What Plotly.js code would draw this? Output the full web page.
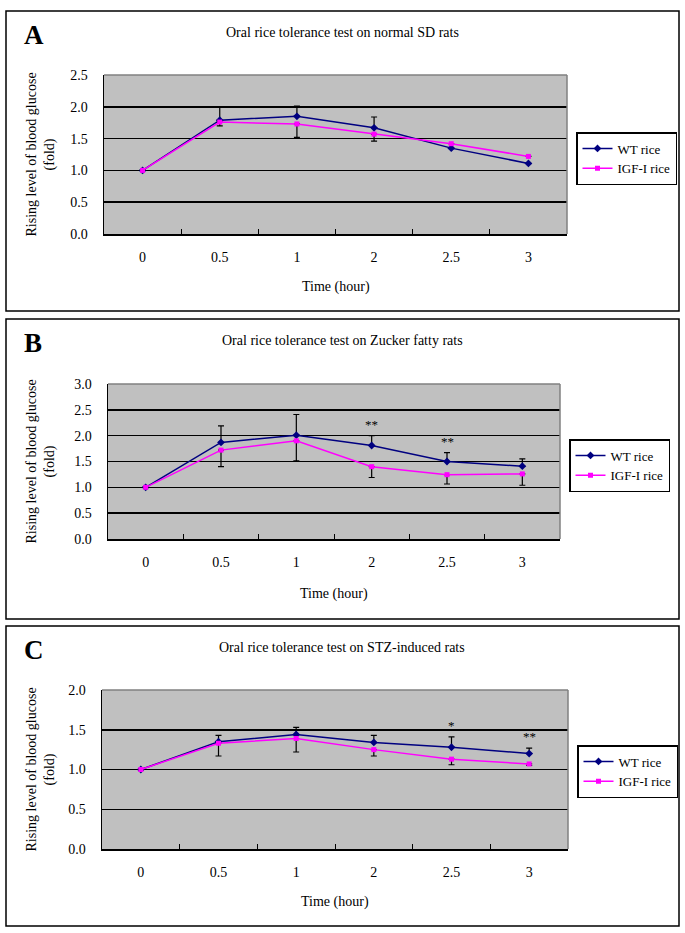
<!DOCTYPE html>
<html>
<head>
<meta charset="utf-8">
<script src="https://cdn.plot.ly/plotly-3.0.1.min.js"></script>
<style>
  body { margin: 0; background: #fff; }
  #chart { width: 685px; height: 933px; }
</style>
</head>
<body>
<div id="chart"></div>
<script>
// time points (category axis)
const timeLabels = ["0", "0.5", "1", "2", "2.5", "3"];

// A: normal SD rats
const wtA = [1.0, 1.79, 1.85, 1.67, 1.35, 1.11];
const igfA = [1.0, 1.76, 1.73, 1.57, 1.42, 1.22];
const wtErrA = [0, 0.21, 0.16, 0.17, 0, 0];
const igfErrA = [0, 0.06, 0.21, 0.11, 0, 0];
const starsA = ["", "", "", "", "", ""];

// B: Zucker fatty rats
const wtB = [1.0, 1.87, 2.01, 1.81, 1.50, 1.41];
const igfB = [1.0, 1.72, 1.90, 1.40, 1.245, 1.26];
const wtErrB = [0, 0.32, 0.40, 0.19, 0.17, 0.14];
const igfErrB = [0, 0.32, 0.385, 0.21, 0.18, 0.22];
const starsB = ["", "", "", "**", "**", ""];

// C: STZ-induced rats
const wtC = [1.0, 1.35, 1.44, 1.34, 1.28, 1.20];
const igfC = [1.0, 1.33, 1.39, 1.25, 1.13, 1.07];
const wtErrC = [0, 0.08, 0.09, 0.09, 0.13, 0.07];
const igfErrC = [0, 0.16, 0.17, 0.08, 0.07, 0.02];
const starsC = ["", "", "", "", "*", "**"];

const W = 685, H = 933;
const FONT = '"Liberation Serif", "Times New Roman", serif';
const px = v => v / W;
const py = v => 1 - v / H;

// panel boxes and plot areas in pixels
const panels = [
  { letter: "A", title: "Oral rice tolerance test on normal SD rats", ymax: 2.5,
    wt: wtA, igf: igfA, wtErr: wtErrA, igfErr: igfErrA, stars: starsA,
    box: [6, 11, 679, 311], plot: [104, 75, 567, 234], legendTop: 132, xTitleY: 287 },
  { letter: "B", title: "Oral rice tolerance test on Zucker fatty rats", ymax: 3.0,
    wt: wtB, igf: igfB, wtErr: wtErrB, igfErr: igfErrB, stars: starsB,
    box: [6, 319, 679, 619], plot: [108, 384, 560, 539], legendTop: 439, xTitleY: 594 },
  { letter: "C", title: "Oral rice tolerance test on STZ-induced rats", ymax: 2.0,
    wt: wtC, igf: igfC, wtErr: wtErrC, igfErr: igfErrC, stars: starsC,
    box: [6, 626, 679, 926], plot: [102, 690, 568, 849], legendTop: 745, xTitleY: 902 }
];

const data = [];
const layout = {
  width: W, height: H,
  margin: { l: 0, r: 0, t: 0, b: 0 },
  paper_bgcolor: "#fff",
  plot_bgcolor: "#c0c0c0",
  font: { family: FONT, color: "#000" },
  showlegend: true,
  shapes: [],
  annotations: []
};

panels.forEach((p, i) => {
  const n = i === 0 ? "" : String(i + 1);
  const xa = "x" + n, ya = "y" + n, lg = "legend" + n;
  const zeros = p.wt.map(() => 0);

  data.push({
    x: timeLabels, y: p.wt, xaxis: xa, yaxis: ya, legend: lg,
    name: "WT rice", mode: "lines+markers",
    line: { color: "#000080", width: 1.5 },
    marker: { symbol: "diamond", size: 6, color: "#000080" },
    error_y: { type: "data", symmetric: false, array: p.wtErr, arrayminus: zeros,
               color: "#000", thickness: 1.2, width: 3 }
  });
  data.push({
    x: timeLabels, y: p.igf, xaxis: xa, yaxis: ya, legend: lg,
    name: "IGF-I rice", mode: "lines+markers",
    line: { color: "#ff00ff", width: 1.5 },
    marker: { symbol: "square", size: 5, color: "#ff00ff" },
    error_y: { type: "data", symmetric: false, array: zeros, arrayminus: p.igfErr,
               color: "#000", thickness: 1.2, width: 3 }
  });

  const [l, t, r, b] = p.plot;
  layout["xaxis" + n] = {
    domain: [px(l), px(r)], anchor: ya, type: "category", range: [-0.5, 5.5],
    tickson: "boundaries", ticks: "inside", ticklen: 5, tickcolor: "#000",
    showline: true, linecolor: "#000", linewidth: 1.5, showgrid: false,
    tickfont: { size: 14 }, ticklabelstandoff: 10, fixedrange: true
  };
  layout["yaxis" + n] = {
    domain: [py(b), py(t)], anchor: xa, range: [0, p.ymax], tick0: 0, dtick: 0.5,
    tickformat: ".1f", showline: true, linecolor: "#000", linewidth: 1.5,
    showgrid: true, gridcolor: "#000", gridwidth: 1.5, zeroline: false,
    tickfont: { size: 14 }, ticklabelstandoff: 12, fixedrange: true
  };

  layout[lg] = {
    x: px(p.plot[2] + 9), y: py(p.legendTop), xanchor: "left", yanchor: "top",
    bordercolor: "#000", borderwidth: 1.5, bgcolor: "#fff",
    font: { size: 13 }, itemwidth: 30, tracegroupgap: 2
  };

  // panel frame
  const [bx0, by0, bx1, by1] = p.box;
  layout.shapes.push({ type: "rect", xref: "paper", yref: "paper",
    x0: px(bx0), x1: px(bx1), y0: py(by1), y1: py(by0),
    line: { color: "#000", width: 1.5 }, layer: "below" });
  // grey plot-area border on top and right
  layout.shapes.push({ type: "line", xref: xa + " domain", yref: ya + " domain",
    x0: 0, x1: 1, y0: 1, y1: 1, line: { color: "#808080", width: 1.5 }, layer: "above" });
  layout.shapes.push({ type: "line", xref: xa + " domain", yref: ya + " domain",
    x0: 1, x1: 1, y0: 0, y1: 1, line: { color: "#808080", width: 1.5 }, layer: "above" });

  // letter, title, axis titles
  layout.annotations.push({ xref: "paper", yref: "paper", x: px(22), y: py(p.box[1] + 24),
    xanchor: "left", yanchor: "middle", showarrow: false,
    text: "<b>" + p.letter + "</b>", font: { size: 27 } });
  layout.annotations.push({ xref: "paper", yref: "paper", x: px(342), y: py(p.box[1] + 21),
    xanchor: "center", yanchor: "middle", showarrow: false,
    text: p.title, font: { size: 14 } });
  layout.annotations.push({ xref: "paper", yref: "paper", x: px(40), y: py((t + b) / 2),
    xanchor: "center", yanchor: "middle", showarrow: false, textangle: -90,
    text: "Rising level of blood glucose<br>(fold)", font: { size: 14 } });
  layout.annotations.push({ xref: "paper", yref: "paper", x: px((l + r) / 2), y: py(p.xTitleY),
    xanchor: "center", yanchor: "middle", showarrow: false,
    text: "Time (hour)", font: { size: 14 } });

  // significance stars above WT error bars (x given as category index)
  p.stars.forEach((s, k) => {
    if (!s) return;
    layout.annotations.push({ xref: xa, yref: ya, x: k, y: p.wt[k] + p.wtErr[k],
      xanchor: "center", yanchor: "bottom", yshift: 2, showarrow: false,
      text: s, font: { size: 13 } });
  });
});

Plotly.newPlot("chart", data, layout, { displayModeBar: false, staticPlot: true });
</script>
</body>
</html>
